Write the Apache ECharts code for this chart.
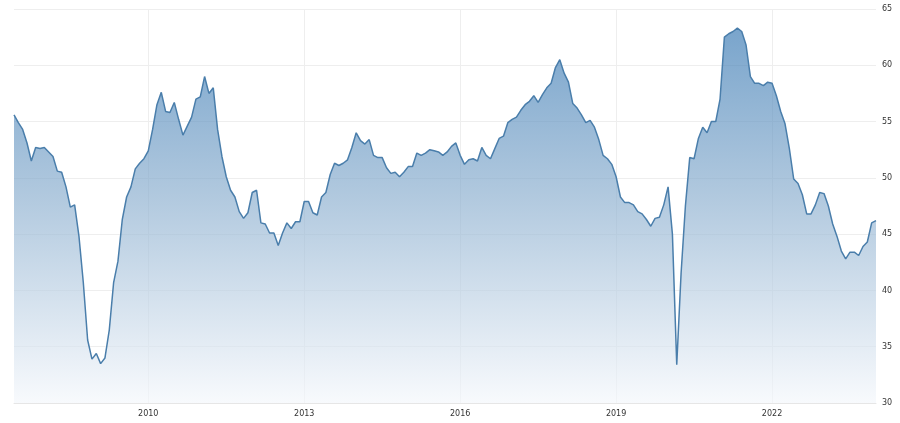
<!DOCTYPE html>
<html>
<head>
<meta charset="utf-8">
<script src="https://cdn.jsdelivr.net/npm/echarts@6/dist/echarts.min.js"></script>
<style>html,body{margin:0;padding:0;background:#fff}#chart{width:900px;height:423px}</style>
</head>
<body>
<div id="chart"></div>
<script>
// monthly values, Jun 2007 .. Jan 2024
var startYear = 2007, startMonth = 6;
var vals2007_2009 = [55.6, 54.9, 54.3, 53.1, 51.5, 52.7, 52.6,
    52.7, 52.3, 51.9, 50.6, 50.5, 49.2, 47.4, 47.6, 44.8, 40.7, 35.6, 33.9,
    34.4, 33.5, 34.0, 36.5, 40.7, 42.6, 46.3, 48.3, 49.2, 50.8, 51.3, 51.7];
var vals2010_2012 = [52.4, 54.3, 56.5, 57.6, 55.9, 55.8, 56.7, 55.2, 53.8, 54.6, 55.4, 57.0,
    57.2, 59.0, 57.5, 58.0, 54.3, 51.9, 50.1, 48.9, 48.3, 47.0, 46.4, 46.9,
    48.7, 48.9, 46.0, 45.9, 45.1, 45.1, 44.0, 45.1, 46.0, 45.5, 46.1, 46.1, 47.9];
var vals2013_2015 = [47.9, 46.9, 46.7, 48.3, 48.7, 50.3, 51.3, 51.1, 51.3, 51.6, 52.7, 54.0,
    53.3, 53.0, 53.4, 52.0, 51.8, 51.8, 50.9, 50.4, 50.5, 50.1, 50.5, 51.0,
    51.0, 52.2, 52.0, 52.2, 52.5, 52.4, 52.3, 52.0, 52.3, 52.8, 53.1, 52.0];
var vals2016_2018 = [51.2, 51.6, 51.7, 51.5, 52.7, 52.0, 51.7, 52.6, 53.5, 53.7, 54.9, 55.2,
    55.4, 56.0, 56.5, 56.8, 57.3, 56.7, 57.4, 58.0, 58.4, 59.8, 60.5, 59.3,
    58.5, 56.6, 56.2, 55.6, 54.9, 55.1, 54.5, 53.4, 52.0, 51.7, 51.2, 50.1];
var vals2019_2021 = [48.3, 47.8, 47.8, 47.6, 47.0, 46.8, 46.3, 45.7, 46.4, 46.5, 47.6, 49.2,
    45.0, 33.4, 41.5, 47.5, 51.8, 51.7, 53.5, 54.5, 54.0, 55.0, 55.0, 57.0,
    62.5, 62.8, 63.0, 63.3, 63.0, 61.8, 59.0, 58.4, 58.4, 58.2, 58.5];
var vals2022_2024 = [58.4, 57.3, 55.9, 54.8, 52.6, 49.9, 49.5, 48.5, 46.8, 46.8, 47.6, 48.7,
    48.6, 47.5, 45.9, 44.8, 43.5, 42.8, 43.4, 43.4, 43.1, 43.9, 44.3, 46.0, 46.2];
var values = [].concat(vals2007_2009, vals2010_2012, vals2013_2015, vals2016_2018, vals2019_2021, vals2022_2024);
var labelYears = ['2010', '2013', '2016', '2019', '2022'];

var months = [];
for (var i = 0; i < values.length; i++) {
    var m = startMonth - 1 + i;
    var y = startYear + Math.floor(m / 12);
    months.push(y + '-' + String(m % 12 + 1).padStart(2, '0'));
}
function isLabel(idx) {
    var s = months[idx];
    return s.slice(5) === '01' && labelYears.indexOf(s.slice(0, 4)) > -1;
}

var chart = echarts.init(document.getElementById('chart'));
chart.setOption({
    animation: false,
    grid: { left: 14, right: 24, top: 9, bottom: 20 },
    xAxis: {
        type: 'category',
        data: months,
        boundaryGap: false,
        axisLine: { lineStyle: { color: '#e6e6e6' } },
        axisTick: { show: false },
        axisLabel: {
            interval: function (idx) { return isLabel(idx); },
            formatter: function (v) { return v.slice(0, 4); },
            color: '#333', fontSize: 8, fontFamily: 'DejaVu Sans', margin: 7
        },
        splitLine: {
            show: true,
            interval: function (idx) { return isLabel(idx); },
            lineStyle: { color: '#eeeeee' }
        }
    },
    yAxis: {
        type: 'value',
        position: 'right',
        min: 30, max: 65, interval: 5,
        axisLine: { show: false },
        axisTick: { show: false },
        axisLabel: { color: '#333', fontSize: 8, fontFamily: 'DejaVu Sans', margin: 6 },
        splitLine: { lineStyle: { color: '#eeeeee' } }
    },
    series: [{
        type: 'line',
        data: values,
        symbol: 'none',
        lineStyle: { color: '#4a7eab', width: 1.5 },
        areaStyle: {
            color: new echarts.graphic.LinearGradient(0, 0, 0, 1, [
                { offset: 0, color: '#3f7db5' },
                { offset: 0.45, color: '#8fb1d0' },
                { offset: 1, color: '#f4f7fb' }
            ])
        }
    }]
});
</script>
</body>
</html>
